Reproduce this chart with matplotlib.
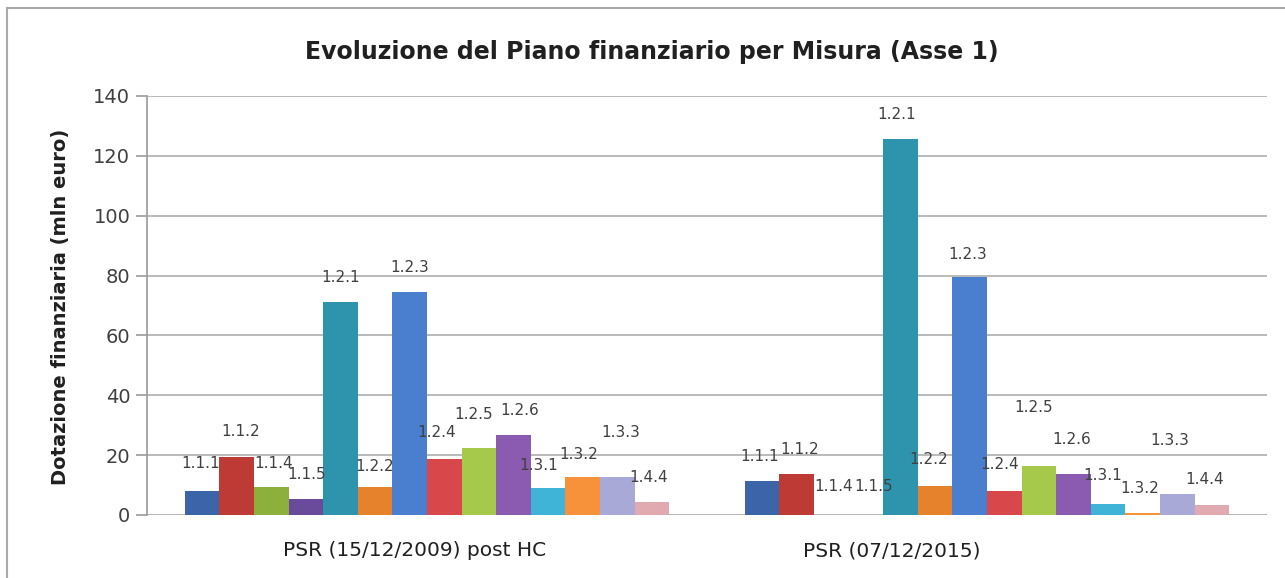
import numpy as np
import matplotlib
matplotlib.use("Agg")
import matplotlib.pyplot as plt
from matplotlib.transforms import ScaledTranslation
from matplotlib.patches import Rectangle

# measures (one series each) and the two financial plans
measures = ["1.1.1", "1.1.2", "1.1.4", "1.1.5", "1.2.1", "1.2.2", "1.2.3",
            "1.2.4", "1.2.5", "1.2.6", "1.3.1", "1.3.2", "1.3.3", "1.4.4"]
plans = ["PSR (15/12/2009) post HC", "PSR (07/12/2015)"]
psr_2009 = [8.0, 19.4, 9.2, 5.3, 71.0, 9.3, 74.4, 18.8, 22.4, 26.8, 9.0, 12.8, 12.8, 4.4]
psr_2015 = [11.4, 13.7, 0.0, 0.0, 125.6, 9.7, 79.4, 8.0, 16.4, 13.7, 3.7, 0.8, 7.0, 3.4]

colors = ["#3c64a8", "#be3a34", "#8db03c", "#6a4a9a", "#2e93ad", "#e7822c", "#4a7fd0",
          "#d8474a", "#a6c94c", "#8a5bb0", "#3fb4d6", "#f7923a", "#a9a9d8", "#e0aab0"]

# data-label nudges in pixels (dx, dy above bar top), moved by hand in the original
offs_2009 = [(-1, 28), (4, 25), (2, 24), (1, 25), (0, 25), (0, 21), (0, 25),
             (-8, 26), (-5, 33), (6, 24), (-9, 23), (-4, 22), (3, 44), (-3, 24)]
offs_2015 = [(-2, 24), (3, 24), (2, 28), (8, 28), (-4, 25), (-6, 26), (-2, 23),
             (-5, 27), (-5, 58), (-2, 34), (-5, 28), (-3, 24), (-8, 54), (-7, 25)]

fig = plt.figure(figsize=(12.85, 5.78), dpi=100)
ax = fig.add_axes([0.1144, 0.109, 0.8716, 0.725])

n = len(measures)
w = 0.0618
x = np.arange(len(plans))
for i, m in enumerate(measures):
    vals = [psr_2009[i], psr_2015[i]]
    xs = x + (i - (n - 1) / 2) * w
    ax.bar(xs, vals, width=w, color=colors[i], linewidth=0, zorder=3)
    for xi, v, (dx, dy) in zip(xs, vals, [offs_2009[i], offs_2015[i]]):
        ax.annotate(m, (xi, v), xytext=(dx, dy), textcoords="offset pixels",
                    ha="center", va="center", fontsize=11, color="#404040", zorder=4)

ax.set_xlim(-0.5, 1.5)
ax.set_ylim(0, 140)
ax.set_yticks(range(0, 141, 20))
ax.yaxis.grid(True, color="#b4b4b4", linewidth=1.3, zorder=0)
ax.set_axisbelow(True)
for s in ["top", "right", "bottom"]:
    ax.spines[s].set_visible(False)
ax.spines["left"].set_color("#9a9a9a")
ax.spines["left"].set_linewidth(1.2)
ax.axhline(0, color="#b4b4b4", linewidth=1.3, zorder=2)
ax.tick_params(axis="y", length=8, width=1.2, color="#9a9a9a", labelsize=14,
               labelcolor="#404040", pad=4)
ax.tick_params(axis="x", length=0, labelsize=14.5, labelcolor="#202020", pad=19)
ax.set_xticks(x)
ax.set_xticklabels(plans)
# the category labels in the original sit left of the group centres
for lab, shift in zip(ax.get_xticklabels(), [-12, -95]):
    lab.set_transform(lab.get_transform() + ScaledTranslation(shift / 100, 0, fig.dpi_scale_trans))

fig.text(0.507, 0.91, "Evoluzione del Piano finanziario per Misura (Asse 1)",
         ha="center", va="center", fontsize=17, fontweight="bold", color="#202020")
fig.text(0.047, 0.469, "Dotazione finanziaria (mln euro)", rotation=90,
         ha="center", va="center", fontsize=14, fontweight="bold", color="#202020")

fig.patches.append(Rectangle((0.0055, -0.05), 1.2, 1.036, transform=fig.transFigure,
                             fill=False, edgecolor="#a8a8a8", linewidth=1.5))

fig.savefig("out.png", dpi=100)
